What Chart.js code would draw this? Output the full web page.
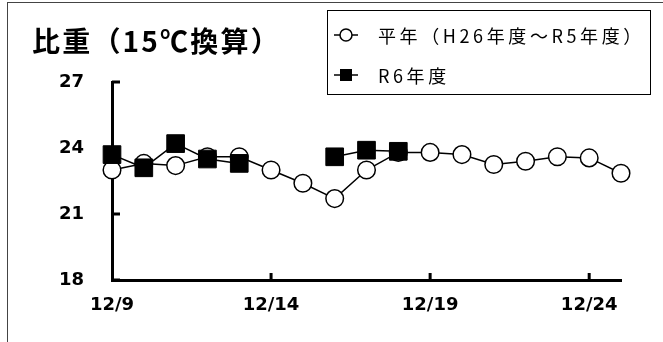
<!DOCTYPE html>
<html lang="ja">
<head>
<meta charset="utf-8">
<script src="https://cdn.jsdelivr.net/npm/chart.js@4.4.1/dist/chart.umd.min.js"></script>
<style>
  html, body { margin: 0; padding: 0; background: #fff; }
  #wrap { position: relative; width: 663px; height: 342px; overflow: hidden; }
  #frame { position: absolute; left: 7px; top: 2px; right: -2px; bottom: -2px;
           border-left: 1px solid #444; border-top: 1px solid #444; }
  #title { position: absolute; left: 32px; top: 21px; font: bold 28px "Noto Sans CJK JP"; line-height: 38px;
           letter-spacing: 2.2px; white-space: nowrap; }
  #legend { position: absolute; left: 327px; top: 10px; width: 322px; height: 83px;
            border: 1.5px solid #000; font: 18px "Noto Sans CJK JP"; }
  .item { position: absolute; left: 5px; height: 24px; display: flex; align-items: center; white-space: nowrap; }
  .item svg { margin-right: 19px; }
  .item span { letter-spacing: 3.6px; }
  canvas { position: absolute; left: 0; top: 0; }
</style>
</head>
<body>
<div id="wrap">
  <div id="frame"></div>
  <canvas id="chart" width="663" height="342"></canvas>
  <div id="title">比重（15℃換算）</div>
  <div id="legend">
    <div class="item" style="top:12px">
      <svg width="26" height="16"><line x1="1" y1="8" x2="25" y2="8" stroke="#000" stroke-width="1.5"/><circle cx="13" cy="8" r="6" fill="#fff" stroke="#000" stroke-width="1.5"/></svg>
      <span>平年（H26年度～R5年度）</span>
    </div>
    <div class="item" style="top:52px">
      <svg width="26" height="16"><line x1="1" y1="8" x2="25" y2="8" stroke="#000" stroke-width="1.5"/><rect x="7" y="2" width="12" height="12" fill="#000"/></svg>
      <span>R6年度</span>
    </div>
  </div>
</div>
<script>
// データ
const labels = ['12/9', '12/10', '12/11', '12/12', '12/13', '12/14', '12/15', '12/16', '12/17',
                '12/18', '12/19', '12/20', '12/21', '12/22', '12/23', '12/24', '12/25'];
const heinen = [23.0, 23.3, 23.2, 23.6, 23.6, 23.0, 22.4, 21.7, 23.0,
                23.8, 23.8, 23.7, 23.25, 23.4, 23.6, 23.55, 22.85];
const r6 = [23.7, 23.1, 24.2, 23.5, 23.3, null, null, 23.6, 23.9, 23.85,
            null, null, null, null, null, null, null];
const yTicks = [18, 21, 24, 27];

// 内向きの目盛り線
const innerTicks = {
  id: 'innerTicks',
  beforeDatasetsDraw(chart) {
    const { ctx, scales: { x, y } } = chart;
    ctx.save();
    ctx.strokeStyle = '#000';
    ctx.lineWidth = 3;
    ctx.beginPath();
    yTicks.forEach(v => {
      const py = y.getPixelForValue(v);
      ctx.moveTo(x.left, py);
      ctx.lineTo(x.left + 8, py);
    });
    labels.forEach((l, i) => {
      if (i % 5 !== 0 || i === 0) return;
      const px = x.getPixelForValue(i);
      ctx.moveTo(px, y.bottom);
      ctx.lineTo(px, y.bottom - 7);
    });
    ctx.stroke();
    ctx.restore();
  }
};

const tickFont = { family: 'DejaVu Sans', weight: 'bold', size: 18 };

new Chart(document.getElementById('chart'), {
  type: 'line',
  data: {
    labels: labels,
    datasets: [
      {
        label: 'R6年度',
        data: r6,
        order: 0,
        borderColor: '#000',
        borderWidth: 1.5,
        backgroundColor: '#000',
        pointStyle: 'rect',
        pointRadius: 12.5,
        pointBorderWidth: 1,
        pointBackgroundColor: '#000',
        spanGaps: false
      },
      {
        label: '平年（H26年度～R5年度）',
        data: heinen,
        order: 1,
        borderColor: '#000',
        borderWidth: 1.5,
        pointStyle: 'circle',
        pointRadius: 8.8,
        pointBorderWidth: 1.5,
        pointBackgroundColor: '#fff'
      }
    ]
  },
  options: {
    responsive: false,
    animation: false,
    layout: { padding: { left: 0, top: 82, right: 42, bottom: 0 } },
    plugins: {
      legend: { display: false },
      title: { display: false },
      tooltip: { enabled: false }
    },
    scales: {
      x: {
        offset: false,
        grid: { display: false, drawTicks: false },
        border: { color: '#000', width: 3 },
        ticks: {
          autoSkip: false,
          maxRotation: 0,
          padding: 15,
          color: '#000',
          font: tickFont,
          callback: function (val, i) {
            return i % 5 === 0 ? this.getLabelForValue(val) : '';
          }
        },
        afterFit: s => { s.height = 62; }
      },
      y: {
        min: 18,
        max: 27,
        grid: { display: false, drawTicks: false },
        border: { color: '#000', width: 3 },
        ticks: {
          stepSize: 3,
          padding: 28,
          color: '#000',
          font: tickFont
        },
        afterFit: s => { s.width = 112; }
      }
    }
  },
  plugins: [innerTicks]
});
</script>
</body>
</html>
